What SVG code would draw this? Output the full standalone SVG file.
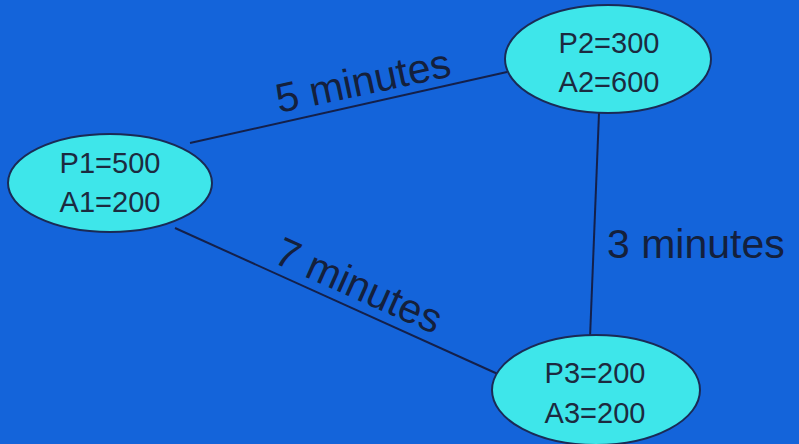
<svg xmlns="http://www.w3.org/2000/svg" width="799" height="444" viewBox="0 0 799 444">
  <style>
    .node ellipse { fill: #3ee6ea; stroke: #1a2a55; stroke-width: 2; }
    .node text { font-family: "Liberation Sans", Arial, sans-serif; font-size: 29px; fill: #1c2a40; text-anchor: middle; }
    .edges line { stroke: #14204a; stroke-width: 2; }
    .label { font-family: "Liberation Sans", Arial, sans-serif; font-size: 41px; fill: #14203c; }
  </style>
  <rect x="0" y="0" width="799" height="444" fill="#1464da"/>

  <g id="edges" class="edges">
    <line x1="190" y1="143" x2="507" y2="72"/>
    <line x1="175" y1="228" x2="500" y2="375"/>
    <line x1="599" y1="113" x2="590" y2="338"/>
  </g>

  <g id="edge-labels">
    <text class="label" transform="translate(279,113) rotate(-12)">5 minutes</text>
    <text class="label" transform="translate(272,262) rotate(24)">7 minutes</text>
    <text class="label" x="607" y="258">3 minutes</text>
  </g>

  <g id="node-1" class="node">
    <ellipse cx="110" cy="183" rx="102" ry="49"/>
    <text x="110" y="173">P1=500</text>
    <text x="110" y="212">A1=200</text>
  </g>

  <g id="node-2" class="node">
    <ellipse cx="608" cy="59" rx="103" ry="54"/>
    <text x="609" y="53">P2=300</text>
    <text x="609" y="92">A2=600</text>
  </g>

  <g id="node-3" class="node">
    <ellipse cx="596" cy="390" rx="104" ry="55"/>
    <text x="595" y="383">P3=200</text>
    <text x="595" y="423">A3=200</text>
  </g>
</svg>
